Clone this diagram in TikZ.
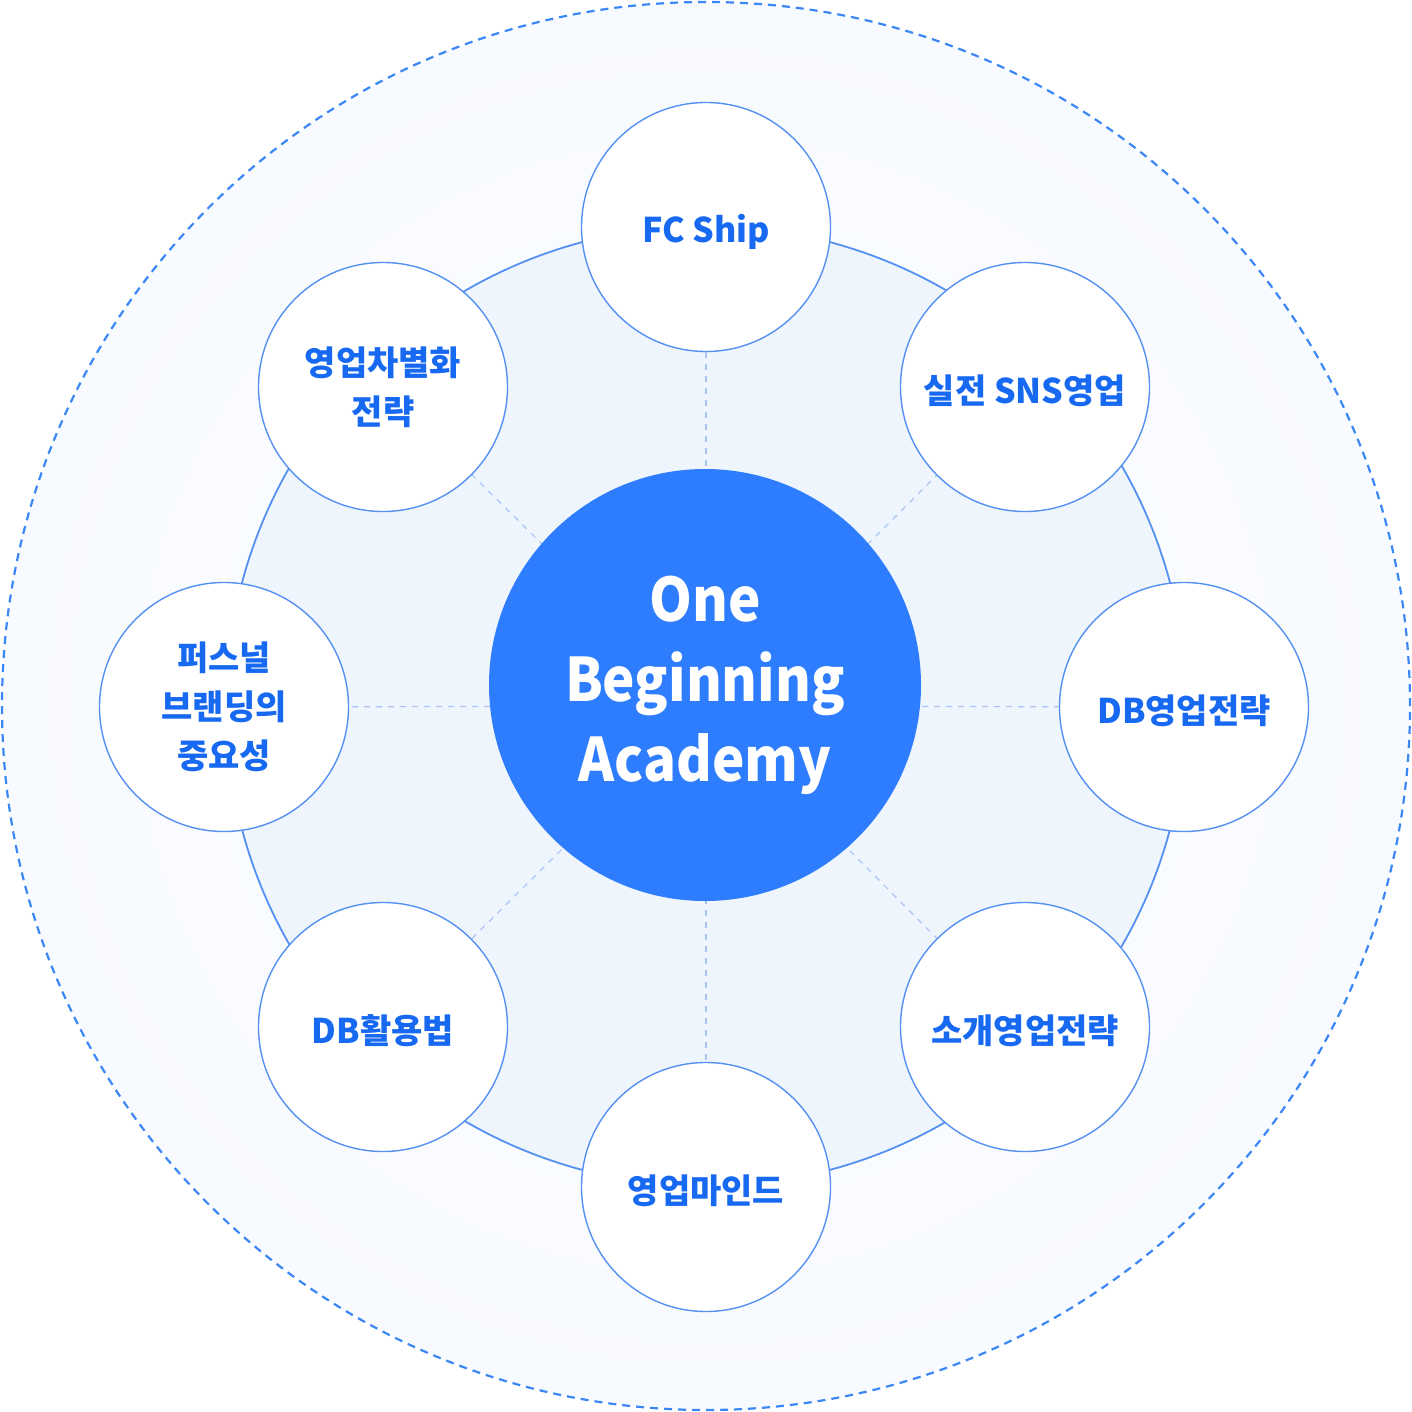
\documentclass[tikz,border=0pt]{standalone}
\usepackage{fontspec}
\setmainfont{Noto Sans CJK KR}
\newfontfamily\corefont{Noto Sans CJK KR}[FakeStretch=0.91]
\usepackage{tikz}
\usetikzlibrary{backgrounds}
\definecolor{obblue}{HTML}{2E7DFF}
\definecolor{oblabel}{HTML}{1769F2}
\definecolor{obline}{HTML}{5590F3}
\definecolor{obdash}{HTML}{3C87F6}
\definecolor{obring}{HTML}{EFF5FD}
\definecolor{oblink}{HTML}{A8C5F4}
\definecolor{obhalo}{HTML}{F7FAFE}

\begin{document}
\begin{tikzpicture}[x=1pt,y=-1pt,thin]
            \tikzset{topic/.style={circle, draw=obline, line width=1.4pt, fill=white, minimum size=249pt, inner sep=0pt, align=center, text=oblabel, font=\fontsize{34}{49}\selectfont\bfseries},
                     oneline/.style={text height=32pt, text depth=0pt},
                     core/.style={circle, fill=obblue, minimum size=432pt, inner sep=0pt, align=center, text=white, font=\corefont\fontsize{60}{80}\selectfont\bfseries},
                     link/.style={draw=oblink, line width=1.2pt, dash pattern=on 6pt off 6pt}}
            \useasboundingbox (0,0) rectangle (1412,1412);
            \coordinate (o) at (706,706);
            \node[core] (ob) at (705,685) {One\\Beginning\\Academy};
            \node[topic, oneline] (fc) at (706,227) {FC Ship};
            \node[topic, oneline] (sns) at (1025,387) {실전 SNS영업};
            \node[topic, oneline] (dbs) at (1184,707) {DB영업전략};
            \node[topic, oneline] (ref) at (1025,1027) {소개영업전략};
            \node[topic, oneline] (mind) at (706,1187) {영업마인드};
            \node[topic, oneline] (dbu) at (383,1027) {DB활용법};
            \node[topic] (brand) at (224,707) {퍼스널\\브랜딩의\\중요성};
            \node[topic] (diff) at (383,387) {영업차별화\\전략};
            \begin{scope}[on background layer]
                \draw[draw=obdash, line width=2.2pt, dash pattern=on 8pt off 6pt, inner color=white, outer color=obhalo] (o) circle (704pt);
                \draw[draw=obline, line width=1.8pt, fill=obring] (o) circle (480pt);
                \path (o) edge[link] (fc);
                \path (o) edge[link] (sns);
                \path (o) edge[link] (dbs);
                \path (o) edge[link] (ref);
                \path (o) edge[link] (mind);
                \path (o) edge[link] (dbu);
                \path (o) edge[link] (brand);
                \path (o) edge[link] (diff);
            \end{scope}
        \end{tikzpicture}
\end{document}
